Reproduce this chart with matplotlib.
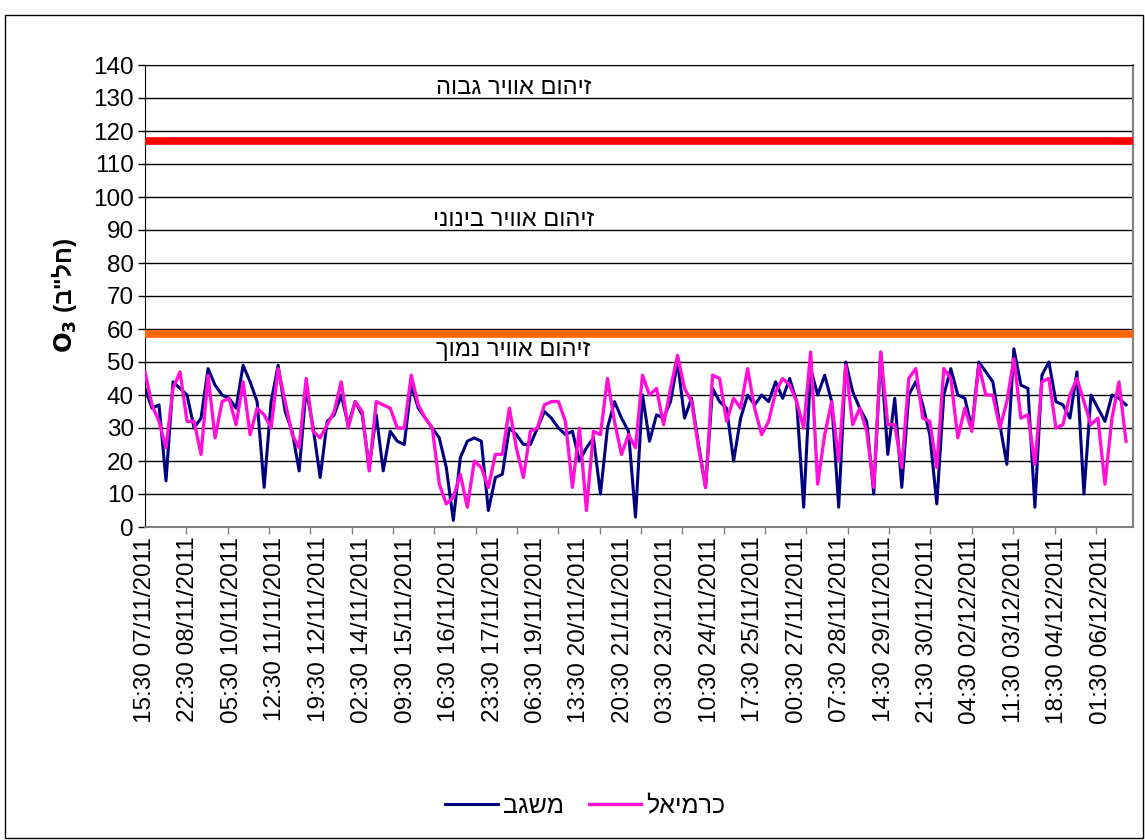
import numpy as np
import matplotlib.pyplot as plt
from matplotlib.patches import Rectangle

plt.rcParams['font.family'] = ['Liberation Sans', 'DejaVu Sans']

# hours since 07/11/2011 15:30, sampled every 5 hours
hours = np.arange(0, 705, 5)

misgav = [42, 36, 37, 14, 44, 42, 40, 30, 33, 48, 43, 40, 39, 36, 49, 44, 38, 12, 38, 49, 35, 29, 17,
          42,
          30, 15, 32, 34, 40, 31, 38, 34, 18, 34, 17, 29, 26, 25, 43, 36, 33, 30, 27, 18, 2, 21, 26,
          27, 26, 5, 15, 16, 30, 28, 25, 25, 30, 35, 33, 30, 28, 29, 20, 24, 27, 10, 30, 38, 33, 29,
          3,
          40, 26, 34, 33, 38, 50, 33, 39, 25, 12, 42, 38, 36, 20, 33, 40, 37, 40, 38, 44, 39, 45, 38,
          6, 48, 40, 46, 38, 6, 50, 41, 36, 32, 10, 53, 22, 39, 12, 40, 44, 37, 28, 7, 40, 48, 40,
          39,
          30, 50, 47, 44, 31, 19, 54, 43, 42, 6, 46, 50, 38, 37, 33, 47, 10, 40, 36, 32, 40, 39, 37]

karmiel = [47, 37, 32, 24, 42, 47, 32, 32, 22, 46, 27, 38, 39, 31, 44, 28, 36, 34, 30, 48, 38, 28, 24,
           45,
           29, 27, 31, 35, 44, 30, 38, 35, 17, 38, 37, 36, 30, 30, 46, 37, 33, 30, 13, 7, 9, 16, 6,
           20, 18, 12, 22, 22, 36, 24, 15, 29, 30, 37, 38, 38, 32, 12, 30, 5, 29, 28, 45, 32, 22, 28,
           24,
           46, 40, 42, 31, 42, 52, 42, 38, 24, 12, 46, 45, 32, 39, 36, 48, 36, 28, 32, 41, 45, 43, 38,
           30, 53, 13, 28, 38, 20, 49, 31, 36, 29, 12, 53, 31, 31, 18, 45, 48, 33, 32, 18, 48, 45, 27,
           36,
           29, 49, 40, 40, 30, 38, 51, 33, 34, 19, 44, 45, 30, 31, 40, 45, 38, 31, 33, 13, 33, 44, 26]

tick_labels = ['15:30 07/11/2011', '22:30 08/11/2011', '05:30 10/11/2011', '12:30 11/11/2011',
               '19:30 12/11/2011', '02:30 14/11/2011', '09:30 15/11/2011', '16:30 16/11/2011',
               '23:30 17/11/2011', '06:30 19/11/2011', '13:30 20/11/2011', '20:30 21/11/2011',
               '03:30 23/11/2011', '10:30 24/11/2011', '17:30 25/11/2011', '00:30 27/11/2011',
               '07:30 28/11/2011', '14:30 29/11/2011', '21:30 30/11/2011', '04:30 02/12/2011',
               '11:30 03/12/2011', '18:30 04/12/2011', '01:30 06/12/2011']
label_step = 31

high_limit = 117
low_limit = 58.5
zone_texts = ['זיהום אוויר גבוה', 'זיהום אוויר בינוני', 'זיהום אוויר נמוך']
zone_y = [133, 93, 53.5]


def rtl(s):
    # matplotlib has no bidi support, so hebrew is written in visual order
    return s[::-1]


fig = plt.figure(figsize=(11.45, 8.4), dpi=100)
ax = fig.add_axes([145 / 1145, 1 - 527 / 840, 988 / 1145, 462 / 840])

ax.set_ylim(0, 140)
ax.set_xlim(0, 705)
ax.set_yticks(np.arange(0, 141, 10))
for v in np.arange(10, 141, 10):
    ax.axhline(v, color='black', lw=1, zorder=1)

ax.axhline(high_limit, color='#FF0000', lw=5.5, zorder=4)
ax.axhline(low_limit, color='#FF6600', lw=5.5, zorder=4)

l1, = ax.plot(hours, misgav, color='#000080', lw=2.2, zorder=2, label=rtl('משגב'))
l2, = ax.plot(hours, karmiel, color='#FF10D8', lw=2.4, zorder=3, label=rtl('כרמיאל'))

for t, y in zip(zone_texts, zone_y):
    ax.text(263, y, rtl(t), ha='center', va='center', fontsize=17)

ax.set_xticks(np.arange(len(tick_labels)) * label_step)
ax.set_xticklabels(tick_labels, rotation=90, fontsize=17.5)
ax.tick_params(axis='x', length=0, pad=7)
ax.set_xticks(np.arange(0, 705, 29.5), minor=True)
ax.tick_params(axis='x', which='minor', length=5, color='#808080', width=1)
ax.tick_params(axis='y', labelsize=17.5, length=5, width=1, pad=3)

for side in ['top', 'left']:
    ax.spines[side].set_color('black')
ax.spines['bottom'].set_color('#808080')
ax.spines['bottom'].set_linewidth(1.5)
ax.spines['right'].set_color('#808080')
ax.spines['right'].set_linewidth(1.5)

ax.set_ylabel(r'$\mathbf{O_3}$ (' + rtl('חל"ב') + ')', fontsize=17.5, fontweight='bold', labelpad=10)

fig.legend(handles=[l1, l2], loc='center', bbox_to_anchor=(0.511, 0.041), ncol=2, frameon=False,
           fontsize=18, handlelength=2.1, columnspacing=1.0, handletextpad=0.2)

fig.patches.append(Rectangle((0.004, 0.002), 0.994, 0.98, transform=fig.transFigure,
                             fill=False, edgecolor='black', lw=1))

plt.savefig('out.png', dpi=100)
